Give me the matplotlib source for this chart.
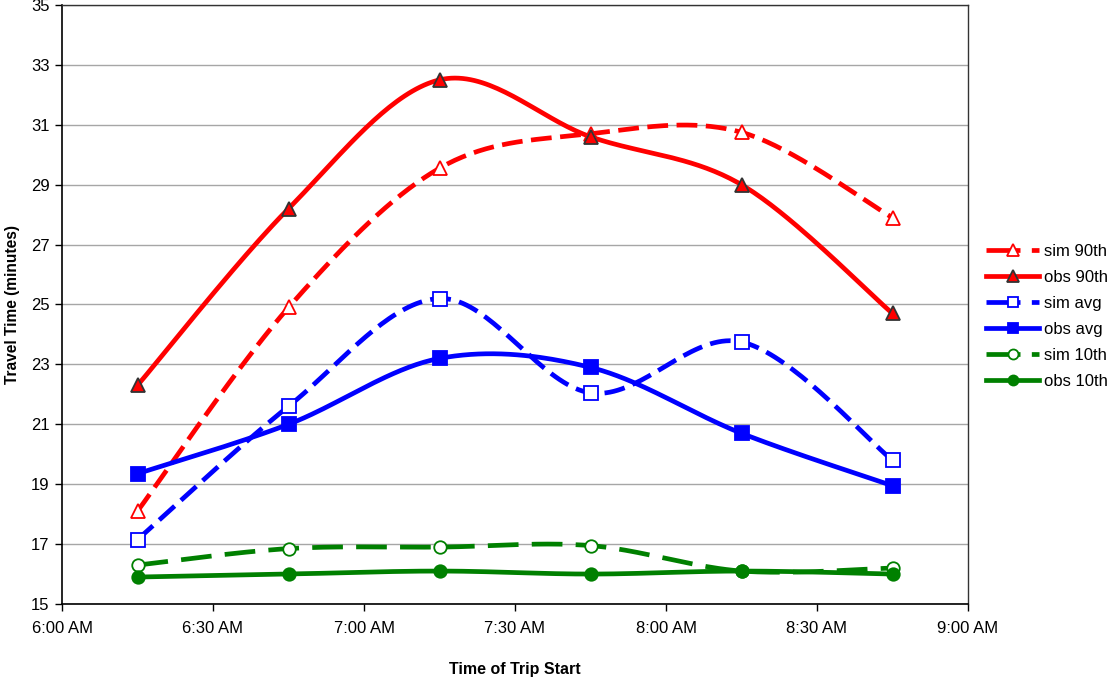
import numpy as np
import matplotlib
matplotlib.use("Agg")
import matplotlib.pyplot as plt
from matplotlib.lines import Line2D

plt.rcParams['font.family'] = ['Liberation Sans', 'DejaVu Sans']

# Trip start times (clock) and travel times in minutes
trip_starts = ["6:15", "6:45", "7:15", "7:45", "8:15", "8:45"]
sim_90th = [18.1, 24.9, 29.55, 30.7, 30.75, 27.9]
obs_90th = [22.3, 28.2, 32.5, 30.6, 29.0, 24.7]
sim_avg = [17.15, 21.6, 25.2, 22.05, 23.75, 19.8]
obs_avg = [19.35, 21.0, 23.2, 22.9, 20.7, 18.95]
sim_10th = [16.3, 16.85, 16.9, 16.95, 16.1, 16.2]
obs_10th = [15.9, 16.0, 16.1, 16.0, 16.1, 16.0]

x_tick_labels = ["6:00 AM", "6:30 AM", "7:00 AM", "7:30 AM", "8:00 AM", "8:30 AM", "9:00 AM"]
y_ticks = list(range(15, 36, 2))


def to_minutes(t):
    h, m = t.split(":")
    return (int(h) - 6) * 60 + int(m)


def smooth(xs, ys, n=40):
    """Cubic Bezier smoothing through every point (Catmull-Rom tangents)."""
    xs = np.asarray(xs, float)
    ys = np.asarray(ys, float)
    P = np.column_stack([xs, ys])
    out = []
    k = len(P)
    for i in range(k - 1):
        p0 = P[max(i - 1, 0)]
        p1 = P[i]
        p2 = P[i + 1]
        p3 = P[min(i + 2, k - 1)]
        c1 = p1 + (p2 - p0) / 6.0
        c2 = p2 - (p3 - p1) / 6.0
        t = np.linspace(0, 1, n)[:, None]
        seg = ((1 - t) ** 3) * p1 + 3 * ((1 - t) ** 2) * t * c1 + 3 * (1 - t) * t ** 2 * c2 + t ** 3 * p2
        if i > 0:
            seg = seg[1:]
        out.append(seg)
    out = np.vstack(out)
    return out[:, 0], out[:, 1]


xm = [to_minutes(t) for t in trip_starts]

fig = plt.figure(figsize=(11.09, 6.77), dpi=100)
ax = fig.add_axes([62 / 1109, 1 - 604 / 677, (968 - 62) / 1109, (604 - 5) / 677])

RED, BLUE, GREEN = "#FF0000", "#0000FF", "#008000"
LW = 3.4
DASH = (0, (4.4, 1.8))
GREEN_DASH = (0, (6.5, 2.8))

series = [
    ("sim 90th", sim_90th, RED, DASH, "^", "white", RED, 10.5),
    ("obs 90th", obs_90th, RED, "-", "^", RED, "#333333", 10.5),
    ("sim avg", sim_avg, BLUE, DASH, "s", "white", BLUE, 9.5),
    ("obs avg", obs_avg, BLUE, "-", "s", BLUE, BLUE, 9.5),
    ("sim 10th", sim_10th, GREEN, GREEN_DASH, "o", "white", GREEN, 9),
    ("obs 10th", obs_10th, GREEN, "-", "o", GREEN, GREEN, 9),
]

handles = []
for label, ys, col, ls, mk, mfc, mec, ms in series:
    sx, sy = smooth(xm, ys)
    ax.plot(sx, sy, color=col, lw=LW, ls=ls, solid_capstyle="butt",
            dash_capstyle="butt", zorder=3)
    ax.plot(xm, ys, ls="none", marker=mk, ms=ms, mfc=mfc, mec=mec,
            mew=1.3, zorder=4)
    leg_ls = (0, (7.2, 2.4)) if ls != "-" else "-"
    handles.append(Line2D([0], [0], color=col, lw=LW, ls=leg_ls, marker=mk,
                          ms=ms * 0.8, mfc=mfc, mec=mec, mew=1.3, label=label))

ax.set_xlim(0, 180)
ax.set_ylim(15, 35)
ax.set_xticks(np.arange(0, 181, 30))
ax.set_xticklabels(x_tick_labels)
ax.set_yticks(y_ticks)
ax.yaxis.grid(True, color="#a6a6a6", lw=1.0)
ax.set_axisbelow(True)
ax.tick_params(axis="both", direction="out", length=5, width=1, labelsize=12,
               color="black")
ax.tick_params(axis="x", pad=7)
ax.tick_params(axis="y", pad=4)
for side in ["left", "bottom"]:
    ax.spines[side].set_color("black")
    ax.spines[side].set_linewidth(1.2)
for side in ["top", "right"]:
    ax.spines[side].set_color("#333333")
    ax.spines[side].set_linewidth(1.0)

ax.set_xlabel("Time of Trip Start", fontsize=11.5, fontweight="bold", labelpad=19)
ax.set_ylabel("Travel Time (minutes)", fontsize=11.2, fontweight="bold", labelpad=8)

fig.legend(handles=handles, loc="upper left",
           bbox_to_anchor=(986 / 1109, 1 - 244 / 677), frameon=False,
           fontsize=12, handlelength=3.2, handletextpad=0.3,
           labelspacing=0.66, borderpad=0, borderaxespad=0, numpoints=1)

fig.savefig("out.png", dpi=100)
